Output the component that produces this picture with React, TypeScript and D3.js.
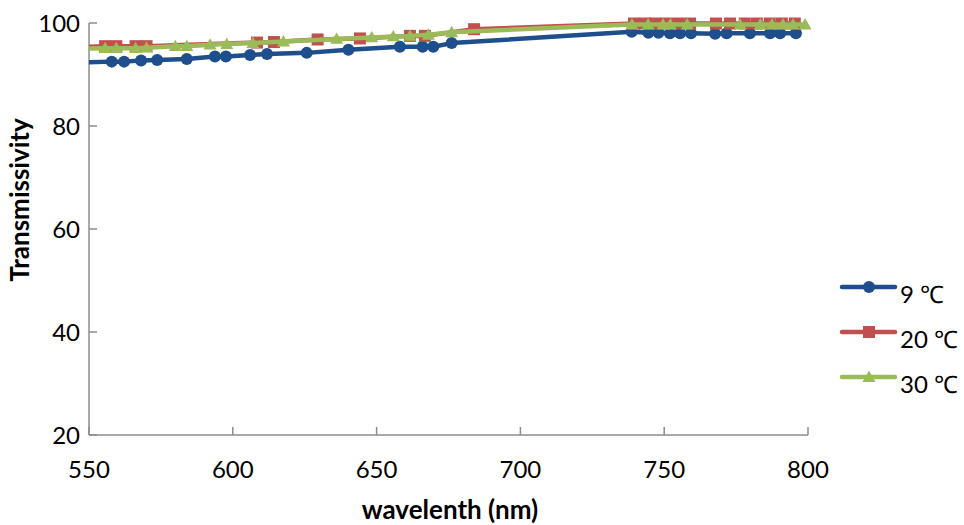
import React from "react";
import * as d3 from "d3";

const wl9 = [545, 557.9, 562.2, 568.1, 573.7, 584.0, 593.8, 597.6, 606.0, 611.9, 625.7, 640.2, 658.1, 666.0, 669.7, 676.1, 738.7, 744.5, 748.0, 752.0, 755.5, 759.3, 767.7, 771.7, 779.8, 786.8, 790.3, 795.8];
const t9 = [92.3, 92.5, 92.5, 92.7, 92.8, 93.0, 93.5, 93.5, 93.8, 94.0, 94.2, 94.8, 95.4, 95.4, 95.4, 96.1, 98.3, 98.1, 98.1, 98.0, 98.0, 98.0, 97.9, 98.0, 98.0, 98.0, 98.0, 98.0];

const wl20 = [545, 555.6, 559.5, 566.2, 570.0, 608.4, 614.3, 629.5, 644.2, 661.6, 666.8, 683.9, 739.5, 743.3, 746.8, 750.6, 754.8, 759.0, 768.0, 772.9, 778.0, 782.2, 786.7, 790.9, 795.4];
const t20 = [95.3, 95.5, 95.5, 95.5, 95.5, 96.2, 96.3, 96.8, 97.0, 97.5, 97.5, 98.8, 99.9, 99.9, 99.9, 99.9, 99.9, 99.9, 99.9, 99.9, 99.9, 99.9, 99.9, 99.9, 99.9];

const wl30 = [545, 555.6, 559.5, 566.2, 570.0, 580.0, 584.0, 592.1, 597.9, 607.0, 617.6, 636.1, 648.3, 655.8, 661.6, 668.0, 676.1, 738.8, 744.4, 749.6, 752.1, 758.0, 776.4, 783.4, 787.5, 791.3, 794.8, 799.0];
const t30 = [95.0, 95.1, 95.1, 95.1, 95.2, 95.5, 95.5, 95.8, 95.9, 96.1, 96.4, 96.9, 97.2, 97.4, 97.5, 97.7, 98.2, 99.7, 99.7, 99.7, 99.7, 99.7, 99.7, 99.7, 99.7, 99.7, 99.7, 99.7];

const xTicks = [550, 600, 650, 700, 750, 800];
const yTicks = [20, 40, 60, 80, 100];
const seriesNames = ["9 ℃", "20 ℃", "30 ℃"];
const seriesColors = ["#1F4E8C", "#C0504D", "#9BBB59"];
const seriesShapes = ["circle", "square", "triangle"];

const FONT = "Lato, 'Open Sans', sans-serif";

function Marker({ shape, x, y, color }: { shape: string; x: number; y: number; color: string }) {
  if (shape === "circle") return <circle cx={x} cy={y} r={6} fill={color} />;
  if (shape === "square") return <rect x={x - 6} y={y - 6} width={12} height={12} fill={color} />;
  const s = 6.5;
  return <path d={`M${x},${y - s}L${x + s},${y + s * 0.75}L${x - s},${y + s * 0.75}Z`} fill={color} />;
}

export default function App() {
  const W = 964, H = 525;
  const x = d3.scaleLinear().domain([550, 800]).range([89, 808]);
  const y = d3.scaleLinear().domain([20, 100]).range([435, 23]);
  const series = [
    { wl: wl9, t: t9 },
    { wl: wl20, t: t20 },
    { wl: wl30, t: t30 },
  ];
  const line = d3.line<[number, number]>().x(d => x(d[0])).y(d => y(d[1]));
  const axisColor = "#8C8C8C";
  return (
    <svg width={W} height={H} style={{ position: "absolute", left: 0, top: 0, background: "#fff" }}>
      <defs>
        <clipPath id="plotclip">
          <rect x={89} y={0} width={808 - 89 + 10} height={440} />
        </clipPath>
      </defs>
      <line x1={89} x2={89} y1={y(100)} y2={y(20)} stroke={axisColor} strokeWidth={1.5} />
      <line x1={89} x2={808} y1={y(20)} y2={y(20)} stroke={axisColor} strokeWidth={1.5} />
      {yTicks.map(t => (
        <g key={"y" + t}>
          <line x1={89} x2={97} y1={y(t)} y2={y(t)} stroke={axisColor} strokeWidth={1.5} />
          <text x={80} y={y(t)} dy="0.36em" textAnchor="end" fontFamily={FONT} fontSize={24} fill="#000">{t}</text>
        </g>
      ))}
      {xTicks.map(t => (
        <g key={"x" + t}>
          <line x1={x(t)} x2={x(t)} y1={y(20)} y2={y(20) - 8} stroke={axisColor} strokeWidth={1.5} />
          <text x={x(t)} y={478} textAnchor="middle" fontFamily={FONT} fontSize={24} fill="#000">{t}</text>
        </g>
      ))}
      <text x={450} y={519} textAnchor="middle" fontFamily={FONT} fontWeight="bold" fontSize={26} fill="#000">wavelenth (nm)</text>
      <text transform={`translate(29,200) rotate(-90)`} textAnchor="middle" fontFamily={FONT} fontWeight="bold" fontSize={26} fill="#000">Transmissivity</text>
      <g clipPath="url(#plotclip)">
        {series.map((s, i) => {
          const pts: [number, number][] = s.wl.map((w, j) => [w, s.t[j]]);
          return (
            <g key={i}>
              <path d={line(pts) || ""} fill="none" stroke={seriesColors[i]} strokeWidth={4.5} strokeLinejoin="round" />
              {pts.map((p, j) => (
                <Marker key={j} shape={seriesShapes[i]} x={x(p[0])} y={y(p[1])} color={seriesColors[i]} />
              ))}
            </g>
          );
        })}
      </g>
      {seriesNames.map((n, i) => {
        const ly = 287 + i * 45;
        return (
          <g key={n}>
            <line x1={842} x2={895} y1={ly} y2={ly} stroke={seriesColors[i]} strokeWidth={4.5} strokeLinecap="round" />
            <Marker shape={seriesShapes[i]} x={869} y={ly} color={seriesColors[i]} />
            <text x={900} y={ly + 16} fontFamily={FONT} fontSize={24} fill="#000">{n}</text>
          </g>
        );
      })}
    </svg>
  );
}
